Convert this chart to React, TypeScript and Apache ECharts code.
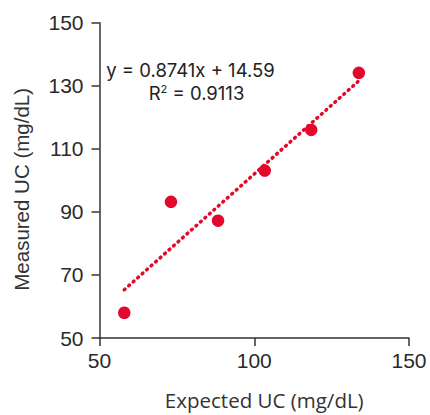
import React, { useEffect, useRef } from "react";
import * as echarts from "echarts";

const expected = [58, 73.1, 88.3, 103.4, 118.4, 133.8];
const measured = [58, 93.2, 87.2, 103.1, 116, 134.1];
const trendX = [58, 133.5];
const trendY = [65.3, 131.3];
const xTicks = [50, 100, 150];
const yTicks = [50, 70, 90, 110, 130, 150];
const equationText = "y = 0.8741x + 14.59";
const r2Value = "0.9113";

const RED = "#e3092d";
const AXIS = "#333333";

export default function App() {
  const ref = useRef<HTMLDivElement>(null);
  useEffect(() => {
    if (!ref.current) return;
    document.body.style.margin = "0";
    const chart = echarts.init(ref.current, null, { renderer: "svg" });
    chart.setOption({
      animation: false,
      backgroundColor: "#ffffff",
      grid: { left: 99.5, right: 21, top: 22.7, bottom: 74.3, containLabel: false },
      xAxis: {
        type: "value",
        min: 50,
        max: 150,
        interval: 50,
        name: "Expected UC (mg/dL)",
        nameLocation: "middle",
        nameGap: 51,
        nameTextStyle: { fontFamily: "Open Sans", fontSize: 20.5, color: "#333", padding: [0, 0, 0, 20] },
        axisLine: { show: true, lineStyle: { color: AXIS, width: 1.5 } },
        axisTick: { show: true, length: 8, lineStyle: { color: AXIS, width: 1.5 } },
        axisLabel: {
          fontFamily: "Liberation Sans",
          fontSize: 21,
          color: "#2a2a2a",
          margin: 12,
          formatter: (v: number) => (xTicks.includes(v) ? String(v) : ""),
        },
        splitLine: { show: false },
      },
      yAxis: {
        type: "value",
        min: 50,
        max: 150,
        interval: 20,
        name: "Measured UC (mg/dL)",
        nameLocation: "middle",
        nameGap: 68,
        nameTextStyle: { fontFamily: "Liberation Sans", fontSize: 20.5, color: "#333", padding: [0, 18, 0, 0] },
        axisLine: { show: true, lineStyle: { color: AXIS, width: 1.5 } },
        axisTick: { show: true, length: 8, lineStyle: { color: AXIS, width: 1.5 } },
        axisLabel: {
          fontFamily: "Liberation Sans",
          fontSize: 21,
          color: "#2a2a2a",
          margin: 16,
          formatter: (v: number) => (yTicks.includes(v) ? String(v) : ""),
        },
        splitLine: { show: false },
      },
      series: [
        {
          type: "line",
          data: trendX.map((x, i) => [x, trendY[i]]),
          symbol: "none",
          lineStyle: { color: RED, width: 3.5, type: [1, 5], cap: "round" },
          z: 2,
        },
        {
          type: "scatter",
          data: expected.map((x, i) => [x, measured[i]]),
          symbolSize: 12.5,
          itemStyle: { color: RED, opacity: 1 },
          z: 3,
        },
      ],
      graphic: [
        {
          type: "text",
          x: 190.5,
          y: 70,
          style: {
            text: equationText,
            fontFamily: "Inter",
            fontSize: 18.5,
            fill: "#222",
            align: "center",
            verticalAlign: "middle",
          },
        },
        {
          type: "text",
          x: 196.5,
          y: 93,
          style: {
            text: "{r|R}{s|2}{r| = " + r2Value + "}",
            fontFamily: "Inter",
            fontSize: 18.5,
            fill: "#222",
            align: "center",
            verticalAlign: "middle",
            rich: {
              r: { fontFamily: "Inter", fontSize: 18.5, fill: "#222" },
              s: { fontFamily: "Inter", fontSize: 11, fill: "#222", verticalAlign: "top", padding: [0, 0, 8, 0] },
            },
          },
        },
      ],
    });
    return () => chart.dispose();
  }, []);
  return <div ref={ref} style={{ width: 430, height: 415 }} />;
}
